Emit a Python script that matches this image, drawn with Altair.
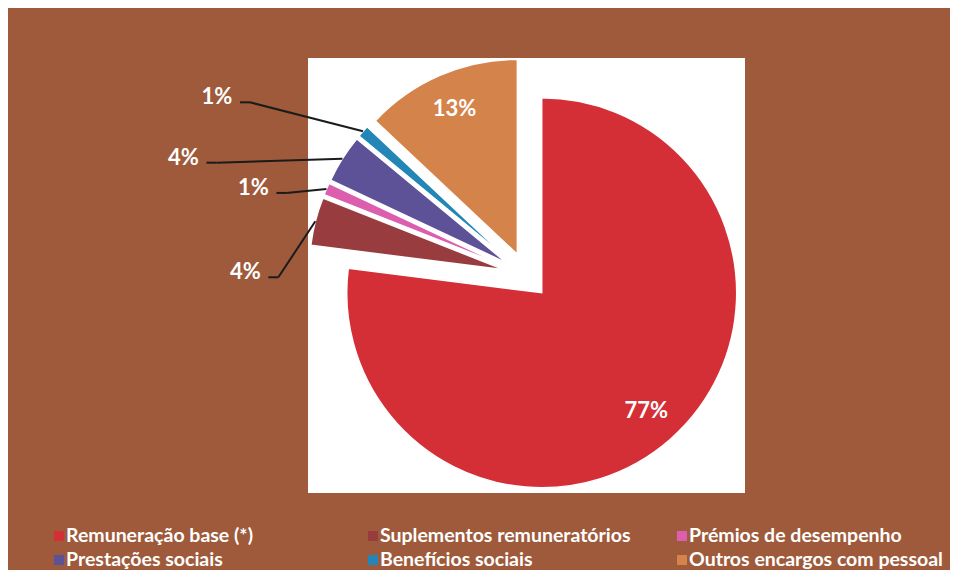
import altair as alt
import pandas as pd

# ---- data ----
categories = ["Remuneração base (*)", "Suplementos remuneratórios", "Prémios de desempenho",
              "Prestações sociais", "Benefícios sociais", "Outros encargos com pessoal"]
values = [77, 4, 1, 4, 1, 13]
colors = ["#d42f36", "#983c3f", "#dc5faf", "#5d5197", "#2386b6", "#d4834b"]

# ---- layout (style) ----
W, H = 437, 435          # white plot area
R = 195                  # pie radius
D = 23                   # explosion distance
RL = 158                 # inside-label radius
inside = [True, False, False, False, False, True]
label_dx = [0, -70, -73, -159, -146, 0]     # outside label offset from slice edge
label_dy = [0, 51, -1, -1, -34, 0]
leg_col_x = [-242, 72, 381]
leg_row_y = [478, 502]

df = pd.DataFrame({
    "idx": list(range(len(categories))),
    "cat": categories,
    "value": values,
    "inside": inside,
    "ldx": label_dx,
    "ldy": label_dy,
})

color_scale = alt.Scale(domain=categories, range=colors)
FONT = "Lato"

base = alt.Chart(df).transform_window(
    cum="sum(value)", sort=[alt.SortField("idx")], frame=[None, 0]
).transform_joinaggregate(
    total="sum(value)"
).transform_calculate(
    c0="datum.cum - datum.value",
    tm="(datum.cum - datum.value/2) / datum.total * 2 * PI",
    ax=f"{W/2} + {D}*sin(datum.tm)",
    ay=f"{H/2} - {D}*cos(datum.tm)",
    ox=f"datum.ax + {R}*sin(datum.tm)",
    oy=f"datum.ay - {R}*cos(datum.tm)",
    ix=f"datum.ax + {RL}*sin(datum.tm)",
    iy=f"datum.ay - {RL}*cos(datum.tm)",
    lx="datum.ox + datum.ldx",
    ly="datum.oy + datum.ldy",
    sx="datum.lx + 23",
    sy="datum.ly + 5",
    ex="datum.sx + 10",
    lbl="format(datum.value / datum.total * 100, '.0f') + '%'",
    col="datum.idx % 3",
    row="floor(datum.idx / 3)",
    legx=f"{leg_col_x}[datum.col]",
    legy=f"{leg_row_y}[datum.row]",
)

def X(f):
    return alt.X(f, type="quantitative", scale=None, axis=None)

def Y(f):
    return alt.Y(f, type="quantitative", scale=None, axis=None)

arcs = base.mark_arc(radius=R, stroke="white", strokeWidth=1.5).encode(
    theta=alt.Theta("c0:Q", stack=None,
                    scale=alt.Scale(domain=[0, sum(values)], range=[0, 6.283185307179586])),
    theta2="cum:Q",
    x=X("ax"), y=Y("ay"),
    color=alt.Color("cat:N", scale=color_scale, legend=None),
)

in_labels = base.transform_filter("datum.inside").mark_text(
    font=FONT, fontWeight="bold", fontSize=22, color="white"
).encode(x=X("ix"), y=Y("iy"), text="lbl:N")

out = base.transform_filter("!datum.inside")

out_labels = out.mark_text(
    font=FONT, fontWeight="bold", fontSize=22, color="white"
).encode(x=X("lx"), y=Y("ly"), text="lbl:N")

lead1 = out.mark_rule(color="#1b1b1b", strokeWidth=2).encode(
    x=X("sx"), y=Y("sy"), x2="ex:Q", y2="sy:Q")
lead2 = out.mark_rule(color="#1b1b1b", strokeWidth=2).encode(
    x=X("ex"), y=Y("sy"), x2="ox:Q", y2="oy:Q")

leg_sym = base.transform_calculate(sxl="datum.legx - 7").mark_square(size=100, opacity=1).encode(
    x=X("sxl"), y=Y("legy"),
    color=alt.Color("cat:N", scale=color_scale, legend=None),
)

leg_txt = base.mark_text(
    font=FONT, fontWeight="bold", fontSize=19.5, color="white", align="left", baseline="middle"
).encode(x=X("legx"), y=Y("legy"), text="cat:N")

chart = alt.layer(arcs, lead1, lead2, in_labels, out_labels, leg_sym, leg_txt).properties(
    width=W, height=H,
    autosize=alt.AutoSizeParams(type="none"),
    padding={"left": 300, "top": 50, "right": 205, "bottom": 77},
    background="#9e5a3b",
).configure_view(fill="white", stroke=None)

chart.save("out.html", embed_options={"renderer": "svg", "actions": False})
